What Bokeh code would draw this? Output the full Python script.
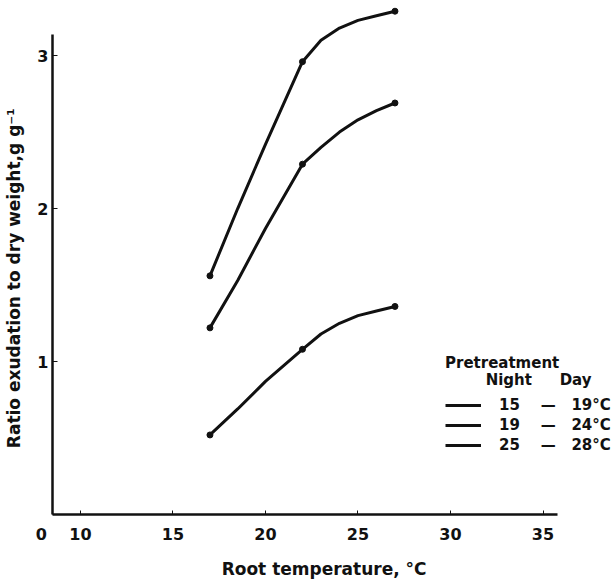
from bokeh.plotting import figure
from bokeh.models import Range1d, FixedTicker, Legend, LegendItem, Label
from bokeh.embed import file_html
from bokeh.resources import INLINE

# Root temperature (deg C)
root_temp = [17, 18.5, 20, 22, 23, 24, 25, 26, 27]
# Ratio exudation to dry weight, g g-1, for each pretreatment (night - day)
ratio_15_19 = [0.52, 0.69, 0.87, 1.08, 1.18, 1.25, 1.30, 1.33, 1.36]
ratio_19_24 = [1.22, 1.53, 1.87, 2.29, 2.40, 2.50, 2.58, 2.64, 2.69]
ratio_25_28 = [1.56, 2.00, 2.42, 2.96, 3.10, 3.18, 3.23, 3.26, 3.29]
# measured points (marked with dots)
measured_idx = [0, 3, 8]

NB = "\u00a0"
night_temps = ["15", "19", "25"]
day_temps = ["19\u00b0C", "24\u00b0C", "28\u00b0C"]
series_labels = [n + NB * 4 + "\u2014" + NB * 3 + d for n, d in zip(night_temps, day_temps)]
X0 = 8.49  # left end of the (broken) x axis, labelled "0"
x_ticks = [X0, 10, 15, 20, 25, 30, 35]
y_ticks = [1, 2, 3]

FONT = "DejaVu Sans"
INK = "#111111"

p = figure(width=613, height=581, output_backend="svg", toolbar_location=None,
           x_range=Range1d(X0, 38.81), y_range=Range1d(0, 3.36),
           min_border_left=52, min_border_right=0, min_border_top=0, min_border_bottom=67)
p.outline_line_color = None
p.grid.visible = False
p.background_fill_color = "white"

renderers = []
for ys in [ratio_15_19, ratio_19_24, ratio_25_28]:
    r = p.line(root_temp, ys, line_color=INK, line_width=3)
    p.scatter([root_temp[i] for i in measured_idx], [ys[i] for i in measured_idx],
              size=6, color=INK)
    renderers.append(r)

# axes
xa = p.xaxis[0]
xa.ticker = FixedTicker(ticks=x_ticks)
xa.major_label_overrides = {X0: "0" + NB * 4}
xa.bounds = (X0, 35.8)
xa.axis_line_width = 2.5
xa.axis_line_color = INK
xa.major_tick_line_color = INK
xa.major_tick_in = 4
xa.major_tick_out = 0
xa.minor_tick_line_color = None
xa.major_label_standoff = 10
xa.major_label_text_color = INK
xa.major_label_text_font = FONT
xa.major_label_text_font_style = "bold"
xa.major_label_text_font_size = "16px"
xa.axis_label = "Root temperature, \u00b0C" + NB * 3
xa.axis_label_text_color = INK
xa.axis_label_text_font = FONT
xa.axis_label_text_font_style = "bold"
xa.axis_label_text_font_size = "17px"
xa.axis_label_standoff = 12

ya = p.yaxis[0]
ya.ticker = FixedTicker(ticks=y_ticks)
ya.bounds = (0, 3.14)
ya.axis_line_width = 2.5
ya.axis_line_color = INK
ya.major_tick_line_color = INK
ya.major_tick_in = 5
ya.major_tick_out = 0
ya.minor_tick_line_color = None
ya.major_label_standoff = 4
ya.major_label_text_color = INK
ya.major_label_text_font = FONT
ya.major_label_text_font_style = "bold"
ya.major_label_text_font_size = "16px"
ya.axis_label = "Ratio exudation to dry weight,g g\u207b\u00b9" + NB * 7
ya.axis_label_text_color = INK
ya.axis_label_text_font = FONT
ya.axis_label_text_font_style = "bold"
ya.axis_label_text_font_size = "17px"
ya.axis_label_standoff = 10

# legend
items = [LegendItem(label=lab, renderers=[r]) for lab, r in zip(series_labels, renderers)]
legend = Legend(items=items, location=(393, 60), title="Pretreatment",
                title_text_font=FONT, title_text_font_style="bold", title_text_font_size="15px",
                title_text_color=INK, title_standoff=24,
                label_text_font=FONT, label_text_font_style="bold", label_text_font_size="15px",
                label_text_color=INK,
                glyph_width=36, glyph_height=16, label_height=16, spacing=2,
                label_standoff=18, padding=2, margin=0,
                border_line_color=None, background_fill_alpha=0)
p.add_layout(legend)
p.add_layout(Label(x=31.9, y=0.876, text="Night", text_align="left", text_baseline="middle",
                   text_color=INK, text_font=FONT, text_font_style="bold", text_font_size="15px"))
p.add_layout(Label(x=35.9, y=0.876, text="Day", text_align="left", text_baseline="middle",
                   text_color=INK, text_font=FONT, text_font_style="bold", text_font_size="15px"))

open("out.html", "w").write(file_html(p, INLINE))
